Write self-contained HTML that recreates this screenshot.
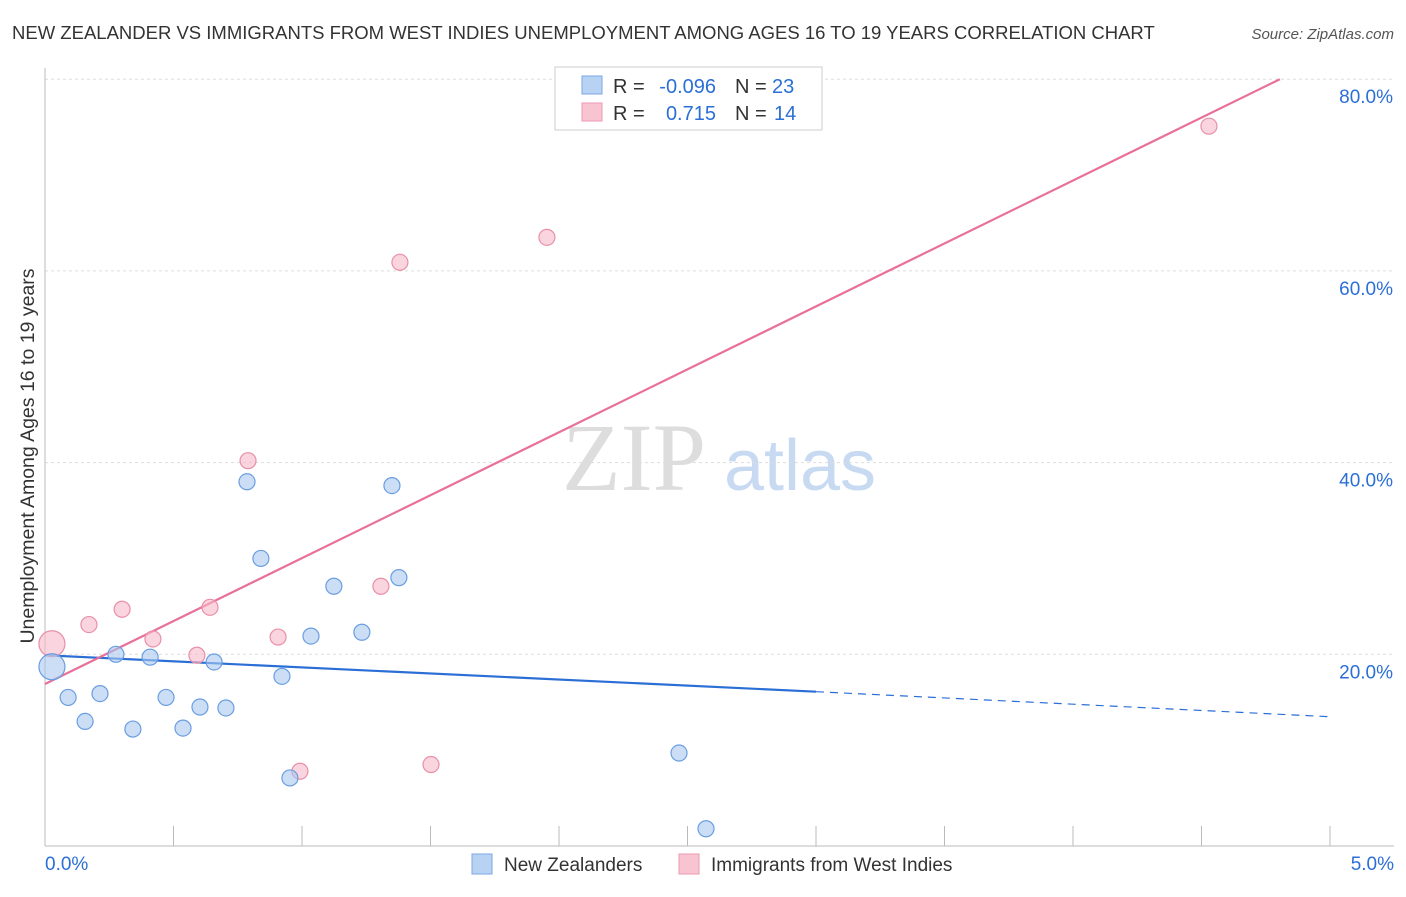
<!DOCTYPE html>
<html><head><meta charset="utf-8"><style>
body{margin:0;background:#fff;font-family:"Liberation Sans",sans-serif;}
</style></head><body>
<svg id="c" width="1406" height="892" xmlns="http://www.w3.org/2000/svg">
<text x="12" y="39" font-size="18.5" fill="#333">NEW ZEALANDER VS IMMIGRANTS FROM WEST INDIES UNEMPLOYMENT AMONG AGES 16 TO 19 YEARS CORRELATION CHART</text>
<text x="1394" y="39" font-size="15" fill="#555" font-style="italic" text-anchor="end">Source: ZipAtlas.com</text>
<text x="634" y="490" font-size="96" fill="#ddd" font-family="Liberation Serif,serif" text-anchor="middle">ZIP</text>
<text x="800" y="490" font-size="72" fill="#c8daf2" text-anchor="middle">atlas</text>
<text transform="translate(34,456) rotate(-90)" font-size="19.5" fill="#333" text-anchor="middle">Unemployment Among Ages 16 to 19 years</text>
<g id="grid"></g><g id="lines"></g><g id="pts"></g>
<g>
<rect x="555" y="67" width="267" height="63" fill="#fff" stroke="#ccc"/>
<rect x="582" y="76" width="20" height="18" fill="#b8d2f4" stroke="#7aa8e4"/>
<rect x="582" y="103" width="20" height="18" fill="#f9c4d2" stroke="#ec9ab2"/>
<text y="93" font-size="20" fill="#333"><tspan x="613">R =</tspan><tspan x="716" text-anchor="end" fill="#2b6fd6">-0.096</tspan><tspan x="735">N =</tspan><tspan x="772" fill="#2b6fd6">23</tspan></text>
<text y="120" font-size="20" fill="#333"><tspan x="613">R =</tspan><tspan x="716" text-anchor="end" fill="#2b6fd6">0.715</tspan><tspan x="735">N =</tspan><tspan x="774" fill="#2b6fd6">14</tspan></text>
</g>
<g>
<rect x="472" y="854" width="20" height="20" fill="#b8d2f4" stroke="#7aa8e4"/>
<text x="504" y="871" font-size="19" fill="#333">New Zealanders</text>
<rect x="679" y="854" width="20" height="20" fill="#f9c4d2" stroke="#ec9ab2"/>
<text x="711" y="871" font-size="19" fill="#333">Immigrants from West Indies</text>
</g>
</svg>
<script>
const blueX=[0.027,0.09,0.156,0.214,0.276,0.342,0.409,0.471,0.537,0.603,0.658,0.704,0.786,0.84,0.922,0.953,1.035,1.124,1.233,1.35,1.377,2.467,2.572];
const blueY=[18.7,15.5,13.0,15.9,20.0,12.2,19.7,15.5,12.3,14.5,19.2,14.4,38.0,30.0,17.7,7.1,21.9,27.1,22.3,37.6,28.0,9.7,1.8];
const pinkX=[0.027,0.171,0.3,0.42,0.591,0.642,0.79,0.907,0.992,1.307,1.381,1.502,1.953,4.529];
const pinkY=[21.1,23.1,24.7,21.6,19.9,24.9,40.2,21.8,7.8,27.1,60.9,8.5,63.5,75.1];
const yTicks=[20,40,60,80];
const yTickLabels=["20.0%","40.0%","60.0%","80.0%"];
const xTickLabels=["0.0%","5.0%"];
const blueTrend=[19.9,16.1,13.5];
const pinkTrend=[16.9,80.0];
const NS="http://www.w3.org/2000/svg";
const X=v=>45+v*257, Y=v=>846-v*9.585;
function mk(t,a,p){const e=document.createElementNS(NS,t);for(const k in a)e.setAttribute(k,a[k]);p.appendChild(e);return e;}
const g=document.getElementById('grid');
yTicks.forEach((t,i)=>{
 const l=mk('line',{x1:45,x2:1394,y1:Y(t),y2:Y(t),stroke:'#ddd','stroke-dasharray':'3,3'},g);
 
 
 const tx=mk('text',{x:1393,y:Y(t)+24,'font-size':19,fill:'#2b6fd6','text-anchor':'end'},g);
 tx.textContent=yTickLabels[i];
 
 
});
mk('line',{x1:45,x2:45,y1:68,y2:846,stroke:'#bbb'},g);
mk('line',{x1:45,x2:1394,y1:846,y2:846,stroke:'#bbb'},g);
for(let i=0;i<=10;i++){const t=mk('line',{x1:X(i*0.5),x2:X(i*0.5),y1:826,y2:846,stroke:'#bbb'},g);}
[[0,'start',45],[5,'end',1394]].forEach((d,i)=>{const t=mk('text',{x:d[2],y:870,'font-size':19,fill:'#2b6fd6','text-anchor':d[1]},g);t.textContent=xTickLabels[i];});
const L=document.getElementById('lines');
let b1=mk('line',{x1:X(0),y1:Y(blueTrend[0]),x2:X(3),y2:Y(blueTrend[1]),stroke:'#2b6fd6','stroke-width':2.2},L);


let b2=mk('line',{x1:X(3),y1:Y(blueTrend[1]),x2:X(4.99),y2:Y(blueTrend[2]),stroke:'#2b6fd6','stroke-width':1.2,'stroke-dasharray':'8,6'},L);


let p1=mk('line',{x1:X(0),y1:Y(pinkTrend[0]),x2:X(4.805),y2:Y(pinkTrend[1]),stroke:'#e8709a','stroke-width':2.2},L);


const P=document.getElementById('pts');
function pts(xs,ys,fill,stroke,name){xs.forEach((x,i)=>{const c=mk('circle',{cx:X(x),cy:Y(ys[i]),r:i==0?13:8,fill:fill,'fill-opacity':0.6,stroke:stroke,'stroke-width':1.2},P);

});}
pts(pinkX,pinkY,'#f6b8c8','#e890a8','pink-point');
pts(blueX,blueY,'#a8c8f0','#6a9ee0','blue-point');
</script>
</body></html>
